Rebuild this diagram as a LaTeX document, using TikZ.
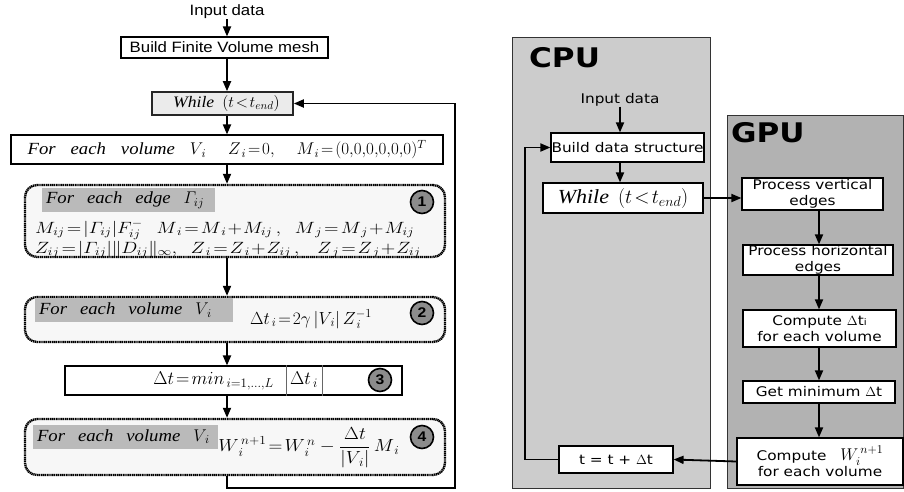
\RequirePackage{fix-cm}
\documentclass[tikz,border=0pt]{standalone}
\usepackage{amsmath}
\usepackage{graphicx}
\usepackage{fontspec}
\setmainfont{Liberation Serif}[FakeStretch=1.1]
\newfontfamily\arial{Liberation Sans}[FakeStretch=1.12]
\newfontfamily\dvs{DejaVu Sans}[FakeStretch=1.15]
\usetikzlibrary{arrows.meta,calc}
\newcommand\hxs[1]{\scalebox{1.1}[1]{#1}}
\newcommand\hxw[1]{\scalebox{1.17}[1]{#1}}
\begin{document}
\begin{tikzpicture}[x=1pt,y=-1pt,
  arr/.style={line width=1.8pt,-{Triangle[length=10pt,width=8pt]}},
  lbox/.style={draw,line width=1.1pt,fill=white,inner sep=0pt},
  whbox/.style={draw=black!85,line width=1.6pt,fill=black!8,inner sep=0pt},
  dbox/.style={draw,line width=2.4pt,dash pattern=on 1.3pt off 0.6pt,rounded corners=12pt,fill=black!3,inner sep=0pt},
  band/.style={fill=black!27,inner xsep=4pt,inner ysep=0pt,minimum height=24pt,align=left,font=\fontsize{17}{19}\selectfont\itshape},
  num/.style={circle,draw,line width=1.6pt,fill=black!45,minimum size=23pt,inner sep=0pt,font=\arial\bfseries\fontsize{14}{14}\selectfont},
  rbox/.style={draw,line width=1.2pt,fill=white,inner sep=0pt,align=center,font=\dvs\fontsize{13.3}{16}\selectfont},
  panel/.style={draw=black!80,line width=1pt},
  eq/.style={inner sep=0pt,font=\fontsize{17.5}{17.5}\selectfont},
  eqs/.style={inner sep=0pt,font=\fontsize{16.3}{16.3}\selectfont},
  lbl/.style={inner sep=0pt},
  plbl/.style={inner sep=0pt,font=\dvs\bfseries\fontsize{27}{27}\selectfont}
]
\useasboundingbox (0,0) rectangle (904,491);
% ---------------- left flowchart ----------------
\node[lbl,font=\arial\fontsize{15}{15}\selectfont] (in1) at (227,12) {Input data};
\node[lbox,minimum width=207pt,minimum height=21pt,font=\arial\fontsize{15}{15}\selectfont] (bfv) at (224.5,47.5) {Build Finite Volume mesh};
\node[whbox,minimum width=141pt,minimum height=23pt,font=\fontsize{16}{16}\selectfont] (wh1) at (222.5,103.5) {\hspace{8pt}\itshape While\hspace{8pt}$(t\!<\!t_{end})$};
\node[lbox,minimum width=432pt,minimum height=29pt,font=\fontsize{17}{17}\selectfont] (fev) at (227,149.5)
  {\itshape For\hspace{15pt}each\hspace{15pt}volume\hspace{15pt}$V_{\,i}$\hspace{22pt}$Z_{\,i}\!=\!0,$\hspace{22pt}$M_{\,i}\!=\!(0,\!0,\!0,\!0,\!0,\!0)^T$};
\node[dbox,minimum width=420pt,minimum height=72pt] (b1) at (235,221) {};
\node[dbox,minimum width=420pt,minimum height=45pt] (b2) at (235,319.5) {};
\node[lbox,minimum width=337pt,minimum height=29pt] (b3) at (233.5,380.5) {};
\node[dbox,minimum width=420pt,minimum height=56pt] (b4) at (235,447) {};
% box 1 content
\node[band,text width=165pt] (t1) at (128.5,200) {For\hspace{13pt}each\hspace{13pt}edge\hspace{13pt}$\varGamma_{ij}$};
\node[num] (n1) at (422,202) {1};
\node[eqs,anchor=base west] (e1a) at (35,233) {\hxw{$M_{ij}\!=\!|\varGamma_{ij}|F^{-}_{ij}$}\hspace{14pt}\hxw{$M_{\,i}\!=\!M_{\,i}\!+\!M_{ij}\,,$}\hspace{14pt}\hxw{$M_{\,j}\!=\!M_{\,j}\!+\!M_{ij}$}};
\node[eqs,anchor=base west] (e1b) at (35,253) {\hxw{$Z_{ij}\!=\!|\varGamma_{ij}|\|D_{ij}\|_{\infty},$}\hspace{14pt}\hxw{$Z_{\,i}\!=\!Z_{\,i}\!+\!Z_{ij}\,,$}\hspace{18pt}\hxw{$Z_{\,j}\!=\!Z_{\,j}\!+\!Z_{ij}$}};
% box 2 content
\node[band,text width=190pt] (t2) at (134,310) {For\hspace{13pt}each\hspace{13pt}volume\hspace{13pt}$V_{\,i}$};
\node[num] (n2) at (422,313) {2};
\node[eq] (e2) at (311,319) {$\Delta t_{\,i}\!=\!2\gamma\left|V_{\,i}\right|Z_{\,i}^{-1}$};
% box 3 content
\node[eq,anchor=east,font=\fontsize{18.5}{18.5}\selectfont] (e3) at (274,381) {$\Delta t\!=\!min_{\,i=1,\dots,L}$};
\coordinate (v1) at (286,0);
\coordinate (v2) at (322,0);
\draw[line width=0.5pt,black!60] (v1 |- b3.north) -- (v1 |- b3.south) (v2 |- b3.north) -- (v2 |- b3.south);
\node[eq,font=\fontsize{18.5}{18.5}\selectfont] (e3b) at (304,380) {$\Delta t_{\,i}$};
\node[num] (n3) at (380,380) {3};
% box 4 content
\node[band,text width=177pt] (t4) at (125.5,436.5) {For\hspace{13pt}each\hspace{13pt}volume\hspace{13pt}$V_{\,i}$};
\node[num] (n4) at (422,437) {4};
\node[eq] (e4) at (309,448) {\hxs{$W_{\,i}^{\,n+1}\!=\!W_{\,i}^{\,n}-\dfrac{\Delta t}{\left|V_{\,i}\right|}\,M_{\,i}$}};
% arrows
\draw[arr] (in1.south) -- (in1.south |- bfv.north);
\draw[arr] (in1.south |- bfv.south) -- (in1.south |- wh1.north);
\draw[arr] (in1.south |- wh1.south) -- (in1.south |- fev.north);
\draw[arr] (in1.south |- fev.south) -- (in1.south |- b1.north);
\draw[arr] (in1.south |- b1.south) -- (in1.south |- b2.north);
\draw[arr] (in1.south |- b2.south) -- (in1.south |- b3.north);
\draw[arr] (in1.south |- b3.south) -- (in1.south |- b4.north);
\coordinate (lc) at (455,488);
\draw[arr] (in1.south |- b4.south) |- (lc) |- (wh1.east);
% ---------------- right diagram ----------------
\node[panel,fill=black!20,minimum width=198pt,minimum height=451pt,inner sep=0pt] (cpu) at (611,262.5) {};
\node[panel,fill=black!30,minimum width=176pt,minimum height=373pt,inner sep=0pt] (gpu) at (815,301.5) {};
\node[plbl,anchor=west] (cpul) at (529,58) {CPU};
\node[plbl,anchor=west] (gpul) at (731,133) {GPU};
\node[lbl,font=\dvs\fontsize{13.3}{13.3}\selectfont] (in2) at (620,100) {Input data};
\node[rbox,minimum width=153pt,minimum height=29pt] (bds) at (627.5,147.5) {Build data structure};
\node[rbox,minimum width=160pt,minimum height=30pt,font=\fontsize{20}{20}\selectfont] (wh2) at (623,198) {\itshape While\hspace{9pt}$(t\!<\!t_{end})$};
\node[rbox,minimum width=141pt,minimum height=32pt] (pve) at (812.5,194) {Process vertical\\edges};
\node[rbox,minimum width=150pt,minimum height=30pt] (phe) at (818,260) {Process horizontal\\edges};
\node[rbox,minimum width=153pt,minimum height=37pt] (cdt) at (819.5,328.5) {Compute $\Delta$t{\fontsize{9}{9}\selectfont i}\\for each volume};
\node[rbox,minimum width=152pt,minimum height=22pt] (gmd) at (819,392) {Get minimum $\Delta$t};
\node[rbox,minimum width=166pt,minimum height=47pt] (cw) at (820,461.5) {Compute\hspace{14pt}{\fontsize{17}{17}\selectfont $W_i^{\,n+1}$}\\for each volume};
\node[rbox,minimum width=114pt,minimum height=27pt] (tpl) at (616,459.5) {t = t + $\Delta$t};
\coordinate (rx) at (819,0);
\draw[arr] (in2.south) -- (in2.south |- bds.north);
\draw[arr] (in2.south |- bds.south) -- (in2.south |- wh2.north);
\draw[arr] (wh2.east) -- (wh2.east -| pve.west);
\draw[arr] (rx |- pve.south) -- (rx |- phe.north);
\draw[arr] (rx |- phe.south) -- (rx |- cdt.north);
\draw[arr] (rx |- cdt.south) -- (rx |- gmd.north);
\draw[arr] (rx |- gmd.south) -- (rx |- cw.north);
\draw[arr] (cw.west) -- (tpl.east);
\coordinate (lp) at (525,459.5);
\draw[arr] (tpl.west) -- (lp) |- (bds.west);
\end{tikzpicture}
\end{document}
